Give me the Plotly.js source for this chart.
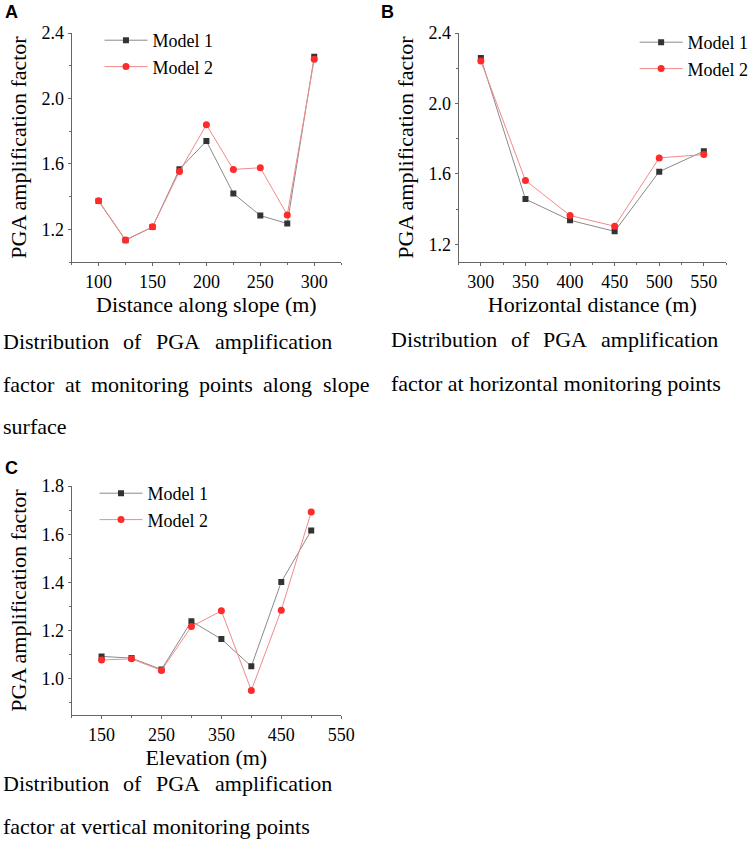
<!DOCTYPE html>
<html>
<head>
<meta charset="utf-8">
<script src="https://cdn.plot.ly/plotly-3.0.1.min.js"></script>
<style>html,body{margin:0;padding:0;background:#fff;}#chart{width:754px;height:849px;}</style>
</head>
<body>
<div id="chart"></div>
<script>
// ---- data ----
const distAlongSlope = [100, 125, 150, 175, 200, 225, 250, 275, 300];
const slopeModel1 = [1.373, 1.133, 1.214, 1.567, 1.739, 1.419, 1.284, 1.235, 2.255];
const slopeModel2 = [1.375, 1.135, 1.215, 1.553, 1.839, 1.566, 1.576, 1.288, 2.239];

const horizDist = [300, 350, 400, 450, 500, 550];
const horizModel1 = [2.258, 1.457, 1.337, 1.274, 1.613, 1.729];
const horizModel2 = [2.241, 1.563, 1.364, 1.303, 1.691, 1.710];

const elevation = [150, 200, 250, 300, 350, 400, 450, 500];
const vertModel1 = [1.093, 1.086, 1.039, 1.239, 1.165, 1.052, 1.402, 1.615];
const vertModel2 = [1.078, 1.083, 1.035, 1.217, 1.282, 0.952, 1.285, 1.692];

const seriesNames = ["Model 1", "Model 2"];
const panelLabels = ["A", "B", "C"];
const axisTitlesX = ["Distance along slope (m)", "Horizontal distance (m)", "Elevation (m)"];
const axisTitleY = "PGA amplification factor";
const captions = [
  ["Distribution of PGA amplification", "factor at monitoring points along slope", "surface"],
  ["Distribution of PGA amplification", "factor at horizontal monitoring points"],
  ["Distribution of PGA amplification", "factor at vertical monitoring points"]
];

// ---- layout helpers ----
const W = 754, H = 849;
const px = v => v / W;
const py = v => 1 - v / H;
const SERIF = 'Liberation Serif';

const c1 = { line: '#8a8a8a', marker: '#333333' };
const c2 = { line: '#f08a8a', marker: '#ff2a2a' };

function pair(x, y1, y2, xa, ya, lg) {
  return [
    { x: x, y: y1, xaxis: xa, yaxis: ya, legend: lg, name: seriesNames[0], type: 'scatter', mode: 'lines+markers',
      line: { color: c1.line, width: 1 }, marker: { symbol: 'square', size: 6, color: c1.marker } },
    { x: x, y: y2, xaxis: xa, yaxis: ya, legend: lg, name: seriesNames[1], type: 'scatter', mode: 'lines+markers',
      line: { color: c2.line, width: 1 }, marker: { symbol: 'circle', size: 7, color: c2.marker } }
  ];
}

const traces = [].concat(
  pair(distAlongSlope, slopeModel1, slopeModel2, 'x', 'y', 'legend'),
  pair(horizDist, horizModel1, horizModel2, 'x2', 'y2', 'legend2'),
  pair(elevation, vertModel1, vertModel2, 'x3', 'y3', 'legend3')
);

function xax(domain, range, tick0, dtick, mdtick, title, anchor) {
  return {
    domain: domain, range: range, anchor: anchor, tick0: tick0, dtick: dtick,
    showgrid: false, zeroline: false, showline: true, linecolor: '#666', linewidth: 1,
    ticks: 'outside', ticklen: 3, tickcolor: '#666', tickwidth: 1,
    minor: { ticks: 'outside', ticklen: 2, dtick: mdtick, tickcolor: '#666', showgrid: false },
    tickfont: { family: SERIF, size: 18, color: '#000' },
    title: { text: title, font: { family: SERIF, size: 22, color: '#000' }, standoff: 4 },
    fixedrange: true
  };
}
function yax(domain, range, tick0, dtick, mdtick, anchor) {
  return {
    domain: domain, range: range, anchor: anchor, tick0: tick0, dtick: dtick, tickformat: '.1f',
    showgrid: false, zeroline: false, showline: true, linecolor: '#666', linewidth: 1,
    ticks: 'outside', ticklen: 3, tickcolor: '#666', tickwidth: 1,
    minor: { ticks: 'outside', ticklen: 2, dtick: mdtick, tickcolor: '#666', showgrid: false },
    tickfont: { family: SERIF, size: 18, color: '#000' },
    title: { text: axisTitleY, font: { family: SERIF, size: 22, color: '#000' }, standoff: 8 },
    fixedrange: true
  };
}

const domTop = [py(262), py(33)];
const domBot = [py(715), py(486)];

function legendAt(x, y) {
  return { x: px(x), y: py(y), xanchor: 'left', yanchor: 'top', bgcolor: 'rgba(0,0,0,0)',
    font: { family: SERIF, size: 18, color: '#000' }, itemwidth: 43, borderwidth: 0,
    tracegroupgap: 0 };
}

// annotations: panel labels, captions (justified where the source is)
const ann = [];
const labelPos = [[3, 12], [381, 12], [3, 468]];
panelLabels.forEach((t, i) => ann.push({
  text: '<b>' + t + '</b>', x: px(labelPos[i][0]), y: py(labelPos[i][1]), xref: 'paper', yref: 'paper',
  xanchor: 'left', yanchor: 'middle', showarrow: false,
  font: { family: 'Liberation Sans', size: 18, color: '#000' }
}));

const ctx = document.createElement('canvas').getContext('2d');
ctx.font = '22px "Liberation Serif"';
function placeLine(text, x0, x1, yc) {
  const words = text.split(' ');
  if (x1 === null || words.length < 2) {
    ann.push({ text: text, x: px(x0), y: py(yc), xref: 'paper', yref: 'paper', xanchor: 'left', yanchor: 'middle',
      showarrow: false, borderpad: 0, font: { family: SERIF, size: 22, color: '#000' } });
    return;
  }
  const ws = words.map(w => ctx.measureText(w).width);
  const total = ws.reduce((a, b) => a + b, 0);
  const gap = (x1 - x0 - total) / (words.length - 1);
  let x = x0;
  words.forEach((w, i) => {
    ann.push({ text: w, x: px(x), y: py(yc), xref: 'paper', yref: 'paper', xanchor: 'left', yanchor: 'middle',
      showarrow: false, borderpad: 0, font: { family: SERIF, size: 22, color: '#000' } });
    x += ws[i] + gap;
  });
}
// panel A caption
placeLine(captions[0][0], 2, 332, 341);
placeLine(captions[0][1], 2, 370, 384);
placeLine(captions[0][2], 2, null, 426);
// panel B caption
placeLine(captions[1][0], 392, 720, 340);
placeLine(captions[1][1], 392, null, 383);
// panel C caption
placeLine(captions[2][0], 2, 332, 783);
placeLine(captions[2][1], 2, null, 826);

const layout = {
  width: W, height: H, margin: { l: 0, r: 0, t: 0, b: 0 },
  paper_bgcolor: '#fff', plot_bgcolor: '#fff', showlegend: true,
  xaxis: xax([px(72), px(343)], [75, 325], 100, 50, 25, axisTitlesX[0], 'y'),
  yaxis: yax(domTop, [1.0, 2.4], 1.2, 0.4, 0.2, 'x'),
  xaxis2: xax([px(461), px(730)], [275, 575], 300, 50, 25, axisTitlesX[1], 'y2'),
  yaxis2: yax(domTop, [1.1, 2.4], 1.2, 0.4, 0.2, 'x2'),
  xaxis3: xax([px(72), px(343)], [100, 550], 150, 100, 50, axisTitlesX[2], 'y3'),
  yaxis3: yax(domBot, [0.85, 1.8], 1.0, 0.2, 0.1, 'x3'),
  legend: legendAt(100, 22),
  legend2: legendAt(638, 24),
  legend3: legendAt(95, 475),
  annotations: ann
};

Plotly.newPlot('chart', traces, layout, { displayModeBar: false, staticPlot: true });
</script>
</body>
</html>
